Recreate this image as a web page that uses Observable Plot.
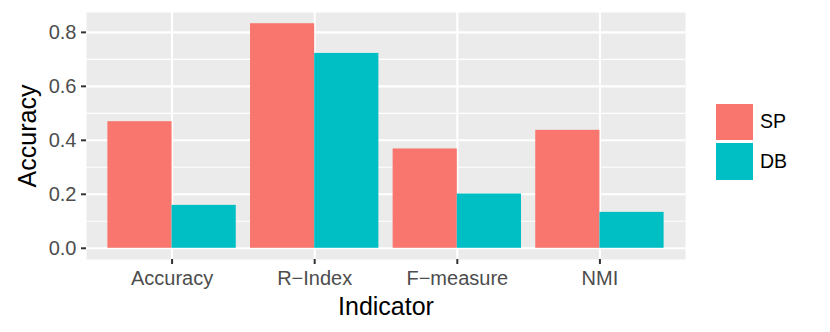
<!DOCTYPE html>
<html><head><meta charset="utf-8">
<script src="https://cdn.jsdelivr.net/npm/d3@7"></script>
<script src="https://cdn.jsdelivr.net/npm/@observablehq/plot@0.6"></script>
<style>
body{margin:0;background:#fff;}
#wrap{position:relative;width:830px;height:332px;font-family:"Liberation Sans",Arial,sans-serif;}
.legend{position:absolute;left:716px;top:102px;}
.row{display:flex;align-items:center;height:39.5px;}
.sw{width:36.5px;height:36.5px;}
.lab{margin-left:7.5px;font-size:19.5px;color:#000;}
</style></head><body><div id="wrap"></div>
<script>
const indicators = ["Accuracy", "R−Index", "F−measure", "NMI"];
const groups = ["SP", "DB"];
const spValues = [0.469, 0.832, 0.368, 0.437];
const dbValues = [0.159, 0.722, 0.201, 0.133];
const yTicks = [0, 0.2, 0.4, 0.6, 0.8];
const yMinor = [0.1, 0.3, 0.5, 0.7];
const groupColors = ["#F8766D", "#00BFC4"];
const xTitle = "Indicator";
const yTitle = "Accuracy";

const rows = indicators.flatMap((ind, i) => [
  {ind, pos: i + 1, group: groups[0], value: spValues[i]},
  {ind, pos: i + 1, group: groups[1], value: dbValues[i]}
]);
const positions = indicators.map((_, i) => i + 1);
const maxV = d3.max(rows, d => d.value);
const pad = maxV * 0.05;
const dodge = 0.45;

const plot = Plot.plot({
  width: 830, height: 332,
  marginLeft: 86, marginRight: 145, marginTop: 12, marginBottom: 73,
  style: {fontFamily: '"Liberation Sans", Arial, sans-serif', fontSize: "20px", background: "#fff"},
  x: {type: "linear", domain: [0.4, indicators.length + 0.6], axis: null},
  y: {domain: [-pad, maxV + pad], axis: null},
  color: {domain: groups, range: groupColors},
  marks: [
    Plot.frame({fill: "#EBEBEB", stroke: "none"}),
    Plot.ruleY(yMinor, {stroke: "#fff", strokeWidth: 1.1}),
    Plot.ruleY(yTicks, {stroke: "#fff", strokeWidth: 2.1}),
    Plot.ruleX(positions, {stroke: "#fff", strokeWidth: 2.1}),
    Plot.rectY(rows, {
      x1: d => d.pos + (d.group === groups[0] ? -dodge : 0),
      x2: d => d.pos + (d.group === groups[0] ? 0 : dodge),
      y1: 0, y2: "value", fill: "group"
    }),
    Plot.axisY({ticks: yTicks, tickFormat: d3.format(".1f"), tickSize: 5, tickPadding: 5,
      stroke: "#333", strokeWidth: 2, fill: "#4D4D4D", fontSize: 20, label: null}),
    Plot.axisX({ticks: positions, tickFormat: d => indicators[d - 1], tickSize: 5, tickPadding: 6,
      stroke: "#333", strokeWidth: 2, fill: "#4D4D4D", fontSize: 20, label: null}),
    Plot.text([xTitle], {text: d => d, frameAnchor: "bottom", dy: 47, fontSize: 25, lineAnchor: "middle", textAnchor: "middle", fill: "#000"}),
    Plot.text([yTitle], {text: d => d, frameAnchor: "left", rotate: -90, dx: -59, fontSize: 25, lineAnchor: "middle", textAnchor: "middle", fill: "#000"})
  ]
});
const wrap = document.getElementById("wrap");
wrap.appendChild(plot);
const color = plot.scale("color");
const leg = document.createElement("div");
leg.className = "legend";
groups.forEach(g => {
  const r = document.createElement("div"); r.className = "row";
  const s = document.createElement("div"); s.className = "sw"; s.style.background = color.apply(g);
  const l = document.createElement("div"); l.className = "lab"; l.textContent = g;
  r.appendChild(s); r.appendChild(l); leg.appendChild(r);
});
wrap.appendChild(leg);
</script></body></html>
